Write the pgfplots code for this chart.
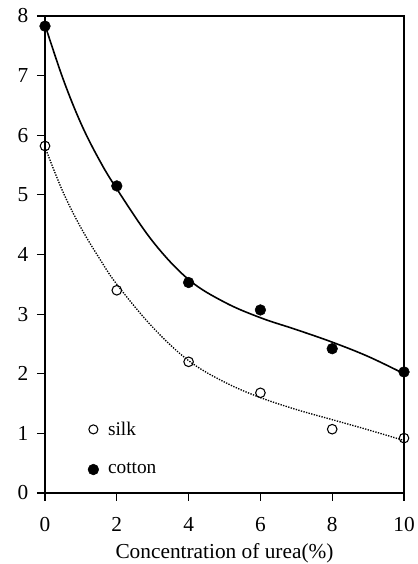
\documentclass[border=0pt]{standalone}
\usepackage{fontspec}
\setmainfont{Liberation Serif}
\usepackage{pgfplots}
\pgfplotsset{compat=1.18}
\begin{document}
\begin{tikzpicture}
\begin{axis}[
  scale only axis,
  width=269.25pt, height=357.75pt,
  xmin=0, xmax=10, ymin=0, ymax=8,
  xtick={0,2,4,6,8,10}, ytick={0,1,2,3,4,5,6,7,8},
  tick align=outside, tick pos=left,
  major tick length=6pt,
  axis line style={line width=1pt},
  tick style={line width=0.8pt, black},
  ticklabel style={font=\fontsize{16}{19}\selectfont},
  xticklabel style={yshift=-9pt},
  yticklabel style={xshift=-3pt},
  /pgf/number format/assume math mode=true,
  xlabel={Concentration of urea(\%)},
  xlabel style={font=\fontsize{16}{19}\selectfont, yshift=-2pt},
  clip=false,
  legend style={draw=none, fill=none, at={(axis cs:1.08,1.29)}, anchor=north west,
    font=\fontsize{14.5}{17}\selectfont, row sep=15.5pt},
  legend cell align=left,
]
\addlegendimage{only marks, mark=o, mark size=3.4pt, black, thick}
\addlegendentry{\hspace{5pt}silk}
\addlegendimage{only marks, mark=*, mark size=4pt, black}
\addlegendentry{\hspace{5pt}cotton}
% fitted curves
\addplot[black, line width=1.2pt, smooth, tension=0.6, forget plot] coordinates {
 (0,7.85) (0.5,6.95) (1,6.2) (1.5,5.6) (2,5.1) (3,4.22) (4,3.58) (5,3.2) (6,2.94) (7,2.74) (8,2.53) (9,2.29) (10,2.0)};
\addplot[black, densely dotted, line width=1pt, smooth, tension=0.6, forget plot] coordinates {
 (0,5.8) (0.5,5.05) (1,4.45) (1.5,3.95) (2,3.5) (3,2.78) (4,2.22) (5,1.86) (6,1.6) (7,1.4) (8,1.23) (9,1.06) (10,0.88)};
% data
\addplot[only marks, mark=*, mark size=4pt, black, forget plot] coordinates {
 (0,7.83) (2,5.15) (4,3.53) (6,3.07) (8,2.42) (10,2.03)};
\addplot[only marks, mark=o, mark size=3.6pt, black, thick, mark options={fill=white}, forget plot] coordinates {
 (0,5.82) (2,3.4) (4,2.2) (6,1.68) (8,1.07) (10,0.92)};
\coordinate (ll) at (rel axis cs:0,0);
\coordinate (ur) at (rel axis cs:1,1);
\end{axis}
\pgfresetboundingbox
\path ([shift={(-33.75pt,-53.25pt)}]ll) rectangle ([shift={(9.75pt,12pt)}]ur);
\end{tikzpicture}
\end{document}
